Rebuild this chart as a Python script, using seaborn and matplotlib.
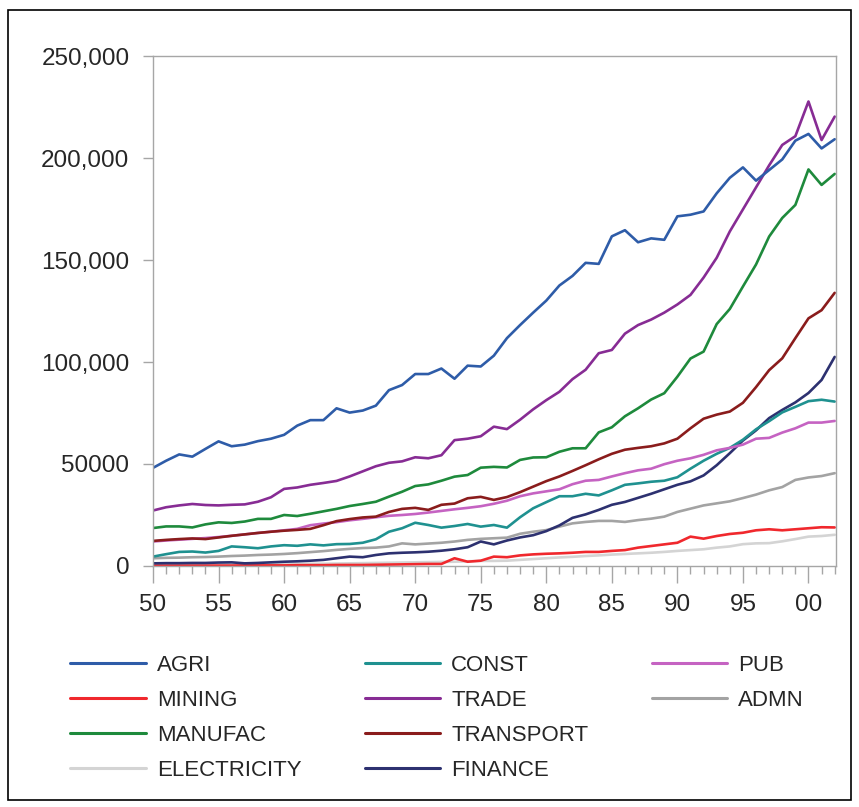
import numpy as np
import pandas as pd
import matplotlib
matplotlib.use("Agg")
import matplotlib.pyplot as plt
import seaborn as sns
from matplotlib.lines import Line2D
from matplotlib.patches import Rectangle
from matplotlib.ticker import MultipleLocator

# ==========================
#  Data (values in thousands)
# ==========================
years = list(range(1950, 2003))

agri = [48.1, 51.6, 54.7, 53.6, 57.4, 61.1, 58.7, 59.5, 61.2, 62.4,
        64.3, 68.8, 71.5, 71.5, 77.3, 75.2, 76.2, 78.6, 86.2, 88.7,
        94.1, 94.1, 96.8, 91.8, 98.2, 97.8, 103.1, 111.7, 118.1, 124.2,
        130.1, 137.5, 142.2, 148.6, 148.1, 161.6, 164.6, 158.7, 160.6, 159.9,
        171.4, 172.2, 173.8, 182.7, 190.3, 195.4, 188.9, 194.1, 199.3, 208.5,
        211.8, 204.7, 209.2]
mining = [0.2, 0.2, 0.2, 0.2, 0.2, 0.2, 0.2, 0.3, 0.3, 0.3,
          0.3, 0.4, 0.4, 0.4, 0.5, 0.5, 0.5, 0.6, 0.7, 0.8,
          0.9, 1.0, 1.0, 3.8, 2.1, 2.6, 4.6, 4.3, 5.2, 5.7,
          6.0, 6.2, 6.5, 6.9, 6.9, 7.4, 7.8, 9.0, 9.8, 10.6,
          11.4, 14.4, 13.4, 14.7, 15.7, 16.3, 17.5, 18.0, 17.5, 18.0,
          18.5, 19.0, 18.9]
manufac = [18.6, 19.4, 19.4, 18.9, 20.4, 21.4, 21.1, 21.8, 23.1, 23.1,
           25.0, 24.5, 25.6, 26.8, 28.0, 29.4, 30.4, 31.5, 34.0, 36.4,
           39.2, 40.0, 41.8, 43.8, 44.6, 48.2, 48.6, 48.3, 52.0, 53.2,
           53.3, 56.0, 57.7, 57.7, 65.5, 68.0, 73.4, 77.3, 81.6, 84.7,
           92.8, 101.7, 105.1, 118.6, 126.0, 137.0, 147.8, 161.5, 170.6, 177.0,
           194.4, 186.8, 192.2]
electricity = [0.5, 0.5, 0.6, 0.6, 0.7, 0.7, 0.8, 0.8, 0.9, 0.9,
               1.0, 1.0, 1.1, 1.1, 1.2, 1.3, 1.4, 1.5, 1.6, 1.7,
               1.8, 1.9, 2.0, 2.1, 2.3, 2.5, 2.5, 2.6, 3.0, 3.4,
               3.8, 4.2, 4.5, 4.9, 5.2, 5.6, 5.9, 6.2, 6.5, 6.9,
               7.4, 7.8, 8.2, 9.0, 9.6, 10.7, 11.1, 11.2, 12.1, 13.2,
               14.4, 14.7, 15.3]
const = [4.6, 5.8, 6.9, 7.1, 6.6, 7.4, 9.6, 9.2, 8.7, 9.6,
         10.2, 9.9, 10.6, 10.1, 10.7, 10.8, 11.4, 13.1, 16.8, 18.5,
         21.2, 20.1, 18.8, 19.6, 20.6, 19.3, 20.1, 18.8, 23.9, 28.3,
         31.3, 34.2, 34.2, 35.4, 34.6, 37.1, 39.8, 40.5, 41.3, 41.8,
         43.5, 47.7, 51.6, 55.0, 57.9, 61.9, 67.0, 71.0, 75.3, 78.0,
         80.8, 81.5, 80.6]
trade = [27.2, 28.8, 29.7, 30.4, 29.9, 29.7, 30.0, 30.2, 31.5, 33.7,
         37.8, 38.5, 39.8, 40.7, 41.7, 43.9, 46.4, 48.9, 50.6, 51.3,
         53.3, 52.8, 54.3, 61.7, 62.4, 63.6, 68.3, 67.1, 71.7, 76.8,
         81.3, 85.4, 91.6, 96.2, 104.3, 105.9, 113.9, 118.1, 120.8, 124.2,
         128.2, 132.9, 141.4, 151.1, 164.0, 174.8, 185.6, 196.4, 206.4, 210.7,
         227.7, 208.8, 220.3]
transport = [12.3, 12.8, 13.2, 13.5, 13.2, 14.0, 14.8, 15.5, 16.2, 16.8,
             17.3, 17.7, 18.2, 20.0, 22.0, 23.0, 23.8, 24.2, 26.5, 28.0,
             28.5, 27.5, 30.0, 30.6, 33.2, 33.9, 32.4, 33.8, 36.2, 38.9,
             41.6, 43.9, 46.6, 49.4, 52.3, 55.0, 57.0, 57.9, 58.7, 60.1,
             62.4, 67.5, 72.2, 74.2, 75.7, 80.0, 87.7, 96.0, 101.8, 111.7,
             121.4, 125.4, 133.9]
finance = [1.3, 1.4, 1.4, 1.5, 1.5, 1.7, 1.8, 1.3, 1.5, 1.8,
           2.1, 2.3, 2.6, 3.0, 3.8, 4.6, 4.3, 5.4, 6.2, 6.5,
           6.7, 7.0, 7.5, 8.2, 9.2, 12.0, 10.6, 12.5, 14.0, 15.1,
           17.1, 19.9, 23.6, 25.3, 27.5, 30.0, 31.4, 33.4, 35.4, 37.6,
           39.8, 41.5, 44.4, 49.4, 55.3, 61.5, 66.5, 72.5, 76.5, 80.2,
           84.8, 91.2, 102.5]
pub = [12.0, 12.5, 12.9, 13.3, 13.7, 14.2, 14.8, 15.5, 16.2, 16.8,
       17.5, 18.2, 20.0, 20.8, 21.5, 22.4, 23.1, 23.9, 24.6, 25.0,
       25.5, 26.2, 27.0, 27.8, 28.5, 29.3, 30.5, 32.0, 34.2, 35.6,
       36.6, 37.6, 40.1, 41.8, 42.2, 43.9, 45.5, 46.9, 47.7, 49.9,
       51.6, 52.8, 54.5, 56.7, 57.9, 59.5, 62.4, 62.8, 65.4, 67.5,
       70.3, 70.3, 71.1]
admn = [3.8, 4.0, 4.1, 4.3, 4.4, 4.6, 4.9, 5.1, 5.4, 5.6,
        5.9, 6.3, 6.8, 7.3, 7.9, 8.4, 8.8, 9.0, 9.6, 11.1,
        10.6, 11.0, 11.4, 12.0, 12.8, 13.3, 13.6, 13.9, 15.8, 16.8,
        17.6, 19.3, 20.9, 21.6, 22.1, 22.1, 21.6, 22.5, 23.2, 24.2,
        26.5, 28.1, 29.7, 30.7, 31.7, 33.3, 35.0, 37.1, 38.7, 42.2,
        43.4, 44.1, 45.5]

sectors = ["AGRI", "MINING", "MANUFAC", "ELECTRICITY", "CONST",
           "TRADE", "TRANSPORT", "FINANCE", "PUB", "ADMN"]
colors = ["#2e5ca8", "#f0282d", "#1e8a3c", "#d4d4d4", "#1f9190",
          "#872c94", "#8a1c1c", "#2d3170", "#c563c2", "#a3a3a3"]

y_ticks = [0, 50000, 100000, 150000, 200000, 250000]
y_labels = ["0", "50000", "100,000", "150,000", "200,000", "250,000"]
x_ticks = list(range(1950, 2001, 5))
x_labels = ["50", "55", "60", "65", "70", "75", "80", "85", "90", "95", "00"]

series = [agri, mining, manufac, electricity, const,
          trade, transport, finance, pub, admn]
df = pd.concat(
    [pd.DataFrame({"Year": years, "Value": np.array(v) * 1000, "Sector": s})
     for s, v in zip(sectors, series)],
    ignore_index=True)

# ==========================
#  Plot
# ==========================
sns.set_theme(style="white")
plt.rcParams["font.family"] = ["Liberation Sans", "DejaVu Sans"]

fig = plt.figure(figsize=(8.59, 8.07), dpi=100)
ax = fig.add_axes([153 / 859, 1 - 566 / 807, (836 - 153) / 859, (566 - 56) / 807])

palette = dict(zip(sectors, colors))
draw_order = ["ELECTRICITY", "MINING", "ADMN", "FINANCE", "CONST", "PUB",
              "TRANSPORT", "MANUFAC", "TRADE", "AGRI"]
sns.lineplot(data=df, x="Year", y="Value", hue="Sector", hue_order=draw_order,
             palette=palette, linewidth=1.9, legend=False, ax=ax)

ax.set_xlim(1950, 2002.1)
ax.set_ylim(0, 250000)
ax.set_xticks(x_ticks)
ax.set_xticklabels(x_labels)
ax.xaxis.set_minor_locator(MultipleLocator(1))
ax.set_yticks(y_ticks)
ax.set_yticklabels(y_labels)
ax.set_xlabel("")
ax.set_ylabel("")

for sp in ax.spines.values():
    sp.set_visible(True)
    sp.set_color("#a6a6a6")
    sp.set_linewidth(1.0)

ax.tick_params(axis="x", which="major", direction="out", length=12, width=1,
               color="#a6a6a6", labelsize=17.5, pad=8, bottom=True)
ax.tick_params(axis="x", which="minor", direction="out", length=6, width=1,
               color="#a6a6a6", bottom=True)
ax.tick_params(axis="y", which="major", direction="out", length=7, width=1,
               color="#a6a6a6", labelsize=17.5, pad=10, left=True)

# Legend: 3 columns, column-major (4, 4, 2)
order = ["AGRI", "MINING", "MANUFAC", "ELECTRICITY",
         "CONST", "TRADE", "TRANSPORT", "FINANCE", "PUB", "ADMN"]
handles = [Line2D([], [], color=palette[s], lw=2.2) for s in order]
labels = list(order)
blank = Line2D([], [], color="none")
handles += [blank, blank]
labels += ["", ""]
fig.legend(handles, labels, ncol=3, loc="upper left",
           bbox_to_anchor=(70 / 859, 1 - 655 / 807), frameon=False,
           fontsize=16, handlelength=3.4, handletextpad=0.5,
           columnspacing=2.85, labelspacing=0.63, borderpad=0,
           borderaxespad=0)

# outer frame
fig.patches.append(Rectangle((8 / 859, 1 - 800 / 807), (851 - 8) / 859, (800 - 10) / 807,
                             transform=fig.transFigure, fill=False,
                             edgecolor="black", linewidth=1.2))

fig.savefig("out.png", dpi=100)
